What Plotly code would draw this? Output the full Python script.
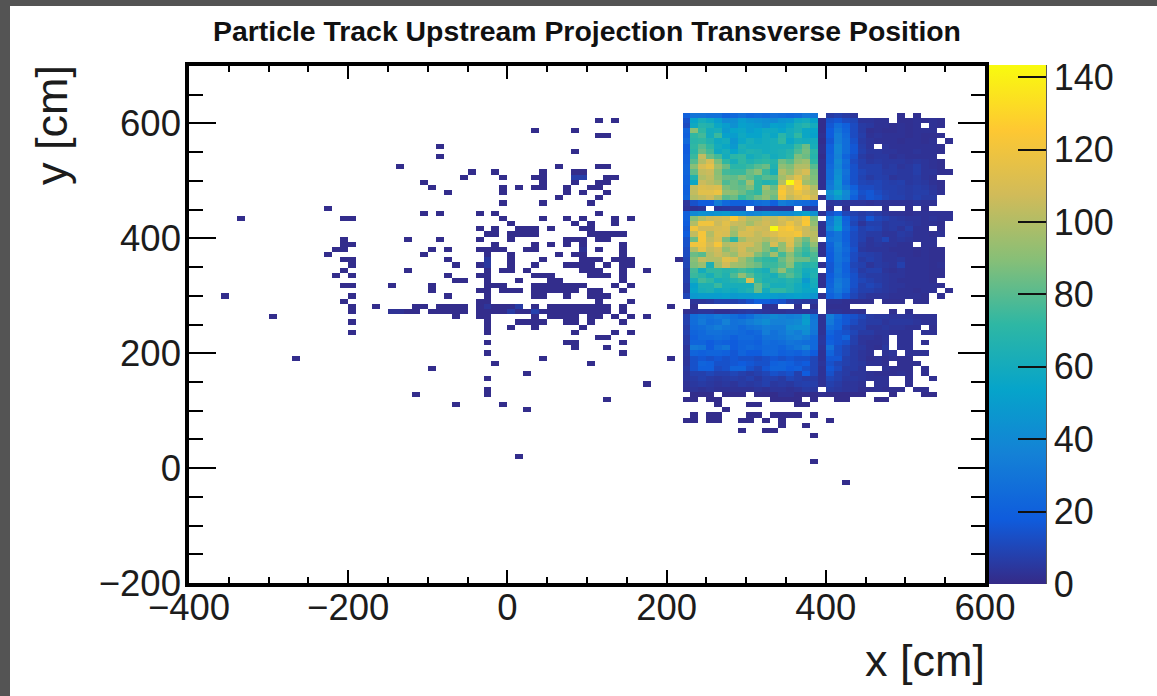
import plotly.graph_objects as go

_ = None
W, H = 1157, 696
PL, PR, PT, PB = 189, 985, 66, 583   # plot frame in page pixels

title_text = "Particle Track Upstream Projection Transverse Position"
x_ticks = [-400, -200, 0, 200, 400, 600]
y_ticks = [-200, 0, 200, 400, 600]
z_ticks = [0, 20, 40, 60, 80, 100, 120, 140]

# Bins: 100 columns of 10 cm from x=-400, 100 rows of 9 cm from y=-200
x_bins = [-400 + 10 * i for i in range(100)]
y_bins = [-200 + 9 * i for i in range(100)]

# Upper-left module, columns x=220..380, rows 90 down to 73
top_left = [
 [20,30,30,28,28,22,24,28,24,26,24,28,26,24,26,32,30],
 [14,54,62,58,50,40,42,50,46,44,42,40,46,48,58,60,52],
 [12,58,68,66,56,50,44,52,50,48,44,52,50,56,64,68,60],
 [22,90,72,60,62,48,54,56,50,54,58,58,54,60,64,56,54],
 [20,72,76,60,74,52,50,58,54,54,60,56,70,60,72,56,52],
 [24,70,72,66,58,60,46,56,62,58,60,62,72,56,62,60,60],
 [18,72,80,72,60,56,48,64,60,60,60,62,62,62,74,84,62],
 [18,70,84,76,58,62,54,62,66,64,60,62,64,68,78,86,70],
 [20,74,104,84,76,60,70,72,60,64,68,60,64,70,88,84,68],
 [20,80,100,110,88,72,62,72,66,70,72,68,86,80,92,96,72],
 [22,90,110,116,96,84,70,70,74,80,84,66,92,88,100,100,80],
 [22,82,104,106,90,76,74,74,84,90,74,62,100,92,104,110,86],
 [20,66,100,104,92,84,82,88,82,74,80,78,96,104,114,100,88],
 [22,56,106,102,96,78,84,78,96,72,66,70,100,143,124,96,90],
 [20,104,112,110,112,88,84,82,88,72,96,84,120,110,126,114,100],
 [20,104,114,114,118,92,90,84,76,72,90,88,124,110,118,110,104],
 [22,100,104,108,98,80,84,72,78,86,92,84,120,104,112,118,108],
 [4,14,18,18,34,24,20,20,22,26,28,20,34,30,26,24,20],
]
# Upper-right module, columns x=400..550, rows 90 down to 72
top_right = [
 [6,8,6,4,_,_,_,_,_,2,_,2,_,_,_,_],
 [14,16,12,10,4,4,3,3,_,2,2,3,2,3,2,_],
 [16,26,20,12,6,5,3,3,2,3,2,3,_,3,2,_],
 [18,30,22,12,6,2,3,2,2,3,2,3,3,3,_,_],
 [18,34,24,12,7,3,4,3,3,3,2,3,2,2,2,_],
 [16,34,26,14,6,4,3,3,3,2,3,3,2,3,_,2],
 [20,38,26,16,7,4,_,4,3,3,3,3,3,3,2,_],
 [20,38,26,16,8,5,5,4,4,3,3,4,3,3,2,_],
 [22,36,22,14,6,4,5,5,3,4,3,3,3,3,_,_],
 [22,40,26,12,8,5,6,5,5,5,4,5,4,3,2,_],
 [24,38,24,14,8,8,8,5,6,4,5,7,4,3,2,_],
 [26,42,28,14,10,8,8,6,6,5,5,7,4,4,2,2],
 [26,44,26,14,9,6,8,7,4,5,5,6,4,3,_,_],
 [30,46,24,14,10,9,10,8,7,8,5,6,5,3,2,_],
 [32,44,30,20,12,12,10,8,8,7,6,7,6,4,2,_],
 [44,56,40,24,14,16,12,9,8,7,6,7,7,5,3,_],
 [38,48,38,20,12,16,14,10,8,8,6,8,6,6,_,_],
 [4,5,4,4,4,3,4,3,3,3,3,4,3,3,_,_],
 [2,_,2,_,_,_,_,2,_,_,2,_,2,_,_,_],
]
# Middle-left module, columns x=220..380, rows 72 down to 53
mid_left = [
 [3,3,4,_,4,5,6,6,_,3,4,3,3,3,_,4,6],
 [20,40,44,42,46,48,42,42,36,40,44,42,40,40,46,52,44],
 [20,90,100,106,108,110,124,108,100,100,106,104,110,106,110,122,88],
 [18,100,120,120,106,114,106,104,96,104,108,104,108,118,108,124,92],
 [16,120,108,108,110,112,98,104,112,108,106,143,120,124,114,106,98],
 [18,104,122,100,112,110,94,110,110,104,108,112,118,118,122,106,102],
 [14,84,122,104,110,86,70,96,104,104,98,104,110,114,96,84,100],
 [14,120,120,108,122,100,104,108,108,100,88,110,92,112,92,78,92],
 [12,100,116,104,108,92,100,108,98,100,88,76,92,104,82,74,84],
 [12,84,80,100,106,100,94,106,104,88,80,96,76,90,78,70,78],
 [10,90,104,100,100,114,110,96,86,76,72,70,84,94,84,84,76],
 [10,88,94,64,96,108,96,94,88,84,74,74,80,90,72,66,70],
 [8,76,60,72,72,68,72,76,72,66,62,78,92,76,70,60,64],
 [8,74,70,62,72,66,78,92,80,70,66,62,74,80,72,58,66],
 [8,62,76,72,62,64,68,72,112,72,64,66,64,68,64,48,62],
 [6,52,64,64,74,62,62,62,62,84,70,62,62,66,60,54,60],
 [6,54,62,64,58,60,58,62,66,84,60,72,72,66,60,56,56],
 [10,48,50,50,50,52,48,50,50,52,52,50,48,50,52,50,46],
 [_,4,4,5,8,8,8,10,14,20,20,16,14,8,6,5,5],
 [_,2,_,_,_,_,_,_,_,_,3,3,_,_,2,_,2],
]
# Middle-right module, columns x=400..550, rows 71 down to 53
mid_right = [
 [14,20,10,8,6,8,6,4,3,3,2,3,3,3,3,3],
 [30,46,20,12,8,16,10,8,6,5,4,4,3,4,3,3],
 [32,48,22,10,4,8,8,5,6,6,5,4,3,3,2,_],
 [36,52,24,14,8,10,9,5,6,4,7,3,3,_,2,_],
 [24,30,20,12,8,6,6,4,4,6,5,3,3,2,3,_],
 [28,30,20,12,8,4,6,10,4,5,4,3,3,3,_,_],
 [22,34,22,12,6,4,5,4,4,3,3,_,3,3,_,_],
 [20,32,24,14,5,4,4,4,3,3,3,2,3,2,2,_],
 [18,30,22,12,8,7,6,4,4,3,3,2,3,2,2,_],
 [18,30,24,12,6,8,6,4,4,5,3,3,3,2,2,_],
 [16,28,20,10,8,4,6,5,4,8,3,3,3,2,3,_],
 [16,30,20,12,6,8,8,4,3,4,3,3,3,2,2,_],
 [18,28,22,14,8,6,6,5,4,4,3,3,3,2,2,_],
 [20,32,26,14,10,8,6,5,4,3,3,3,3,2,_,_],
 [22,34,26,14,8,10,8,5,4,4,3,3,3,3,2,_],
 [24,32,24,12,8,8,6,5,4,3,3,2,3,3,_,2],
 [20,26,16,10,6,4,4,4,3,3,3,3,2,_,2,_],
 [3,3,2,2,2,2,_,2,2,2,_,2,2,_,_,_],
 [2,2,2,_,_,_,_,_,_,_,_,_,_,_,_,_],
]
# Lower-left module, columns x=220..380, rows 52 down to 37
low_left = [
 [2,3,4,4,2,2,4,5,6,5,4,3,3,4,4,4,5],
 [8,26,30,28,32,30,26,22,26,34,36,40,36,34,36,48,30],
 [8,26,32,26,28,36,28,30,34,38,42,36,36,38,40,50,32],
 [6,24,26,30,34,30,28,24,28,30,34,32,32,42,44,44,32],
 [8,22,24,28,28,26,26,24,22,24,34,28,32,38,34,42,30],
 [6,20,24,24,26,24,20,24,24,22,28,28,30,34,36,32,24],
 [6,22,22,18,22,20,18,22,22,20,26,24,26,30,28,26,24],
 [4,32,30,18,26,30,18,22,24,22,24,24,22,26,30,36,24],
 [5,22,20,22,22,20,16,22,18,18,24,24,20,22,20,24,18],
 [4,14,16,14,16,14,16,14,14,12,14,16,14,16,14,14,10],
 [4,14,22,20,14,14,16,18,16,14,14,20,22,20,16,18,10],
 [5,14,20,20,12,14,22,22,14,10,16,22,22,18,20,14,10],
 [4,8,8,10,8,8,10,8,6,8,10,14,12,14,8,18,10],
 [4,6,8,6,5,6,7,6,8,5,8,8,6,10,8,6,6],
 [3,5,6,5,4,5,4,6,5,6,8,5,6,5,7,8,7],
 [2,4,3,4,3,3,3,3,3,4,3,4,4,3,4,6,5],
]
# Lower-right module, columns x=400..530, rows 52 down to 37
low_right = [
 [3,3,2,3,2,_,_,_,2,_,2,_,_,_],
 [34,24,16,14,10,6,5,5,4,4,4,3,3,3],
 [32,22,16,12,8,6,6,4,5,5,5,4,3,3],
 [26,22,12,8,8,4,4,5,4,4,3,3,_,2],
 [22,16,14,10,6,6,4,4,3,3,3,_,3,3],
 [18,16,22,8,4,4,3,4,_,3,3,_,_,_],
 [20,16,14,8,4,3,3,4,_,3,3,_,2,_],
 [28,14,10,6,5,3,2,5,_,3,3,_,_,_],
 [22,14,10,6,4,3,_,3,4,_,3,3,3,_],
 [16,16,8,6,4,2,3,2,3,2,2,_,_,_],
 [14,10,8,6,5,3,3,2,_,2,2,2,_,_],
 [16,12,6,6,4,_,_,3,2,2,2,_,2,_],
 [14,8,6,4,4,3,2,2,2,3,2,_,2,_],
 [10,8,5,5,4,3,3,3,_,_,2,_,_,2],
 [8,6,4,4,3,_,3,3,_,_,2,_,_,_],
 [6,5,4,4,2,2,3,2,2,2,_,2,2,_],
]
# Column x=390, rows 90 down to 36
gap_column = [_,1,1,1,2,1,2,2,1,2,2,2,2,2,2,_,2,_,_,3,_,3,2,2,_,2,2,2,_,2,_,2,2,2,_,2,_,_,_,
              3,3,3,3,4,5,4,3,3,4,3,3,3,3,_,2]

# Isolated low-count cells: row index and the x of each filled bin
sparse_rows = [89,87,86,84,83,82,80,79,78,77,76,75,74,73,72,71,70,69,68,67,66,65,64,63,62,61,60,59,58,57,
               56,55,54,53,52,51,50,49,48,47,46,45,44,43,42,41,40,39,38,37,36,35,34,33,32,31,30,29,28,24,23,19]
sparse_xs = [
 [110,130],[30,80],[110,120],[-90],[80],[-90],[-140,60,110,120],[-50,-20,40,80,90],
 [-60,-10,30,40,80,90,120,130],[-110,40,80,110,120],[-100,-10,10,30,40,70,100,110],[-80,-10,70,90,120],
 [60,110],[-10,40,100],[-230],[-110,-90,-40,-20,110],[-340,-210,-200,-10,40,70,90,130,150],[0,80,100,130],
 [-40,-20,10,20,30,50,90,100],[-30,-20,0,10,20,30,100,110,120,130,140],
 [-210,-130,-90,-40,0,70,80,90,110,120],[-210,-200,-20,30,50,70,90,140],
 [-220,-210,-100,-80,-40,-30,-20,-10,20,30,110,140],[-230,-110,-30,0,60,80,90,140],
 [-210,-200,-80,-30,0,40,90,100,110,130,140,150,210],[-200,-70,-40,-30,0,30,70,80,90,100,120,140,150],
 [-210,-130,-30,-10,0,20,90,100,110,140,170],[-220,-200,-80,-40,-30,30,40,50,100,110,120,140],
 [-70,-60,-30,10,50,60,140],[-210,-200,-150,-100,-30,-20,-10,30,40,50,60,70,80,90,130,150],
 [-100,-40,-30,-10,0,10,30,40,50,60,70,80,100,110,140],[-360,-200,-80,-30,30,40,70,100,110,120],
 [-210,-40,-30,110,150],
 [-200,-170,-120,-110,-90,-80,-70,-60,-40,-30,-20,-10,0,10,30,50,60,70,80,90,100,110,120,140,200],
 [-200,-150,-140,-130,-120,-100,-90,-80,-70,-60,-40,-30,-20,-10,0,10,20,30,40,50,60,70,80,90,100,110,120,140],
 [-300,-70,-40,-30,30,50,60,70,80,100,110,130,150,170],[-200,-30,10,20,30,40,70,80,100,140],
 [-30,0,30,90],[-200,-30,80,130,150],[110,120],[-30,70,80,140],[80,120],[-30,140],[-270,40,200],[-20,100],
 [-100],[20],[-30],[170],[-30],
 [-120,-30,230,240,250,270,280,290,310,320,330,340,350,360,370,380,400,410,420,430,440,480,520,530],
 [120,220,230,250,260,330,340,350,360,380,410,420,460,470],
 [-70,-10,260,300,310,360,370],[20,270],[230,250,260,300,310,330,340,350,360,380],
 [220,230,250,260,290,300,320,340,400],[340,370],[290,320,330],[380],[10],[380],[420],
]
# A few of those cells read slightly brighter than a single count: x, row, count
bright_x = [-30,-30,0,10,30,-150,-140,-30,90,80,90,340,350]
bright_row = [62,61,52,53,52,52,52,53,64,78,78,36,36]
bright_count = [5,5,6,6,8,3,3,4,3,7,7,3,3]

z = [[None for i in x_bins] for j in y_bins]

def put(block, first_row, first_x):
    for r, row in enumerate(block):
        for c, v in enumerate(row):
            if v is not None:
                z[first_row - r][(first_x + 400 + 10 * c) // 10] = v

for n, xs in zip(sparse_rows, sparse_xs):
    for x in xs:
        z[n][(x + 400) // 10] = 1
for x, n, v in zip(bright_x, bright_row, bright_count):
    z[n][(x + 400) // 10] = v
put(top_left, 90, 220)
put(top_right, 90, 400)
put(mid_left, 72, 220)
put(mid_right, 71, 400)
put(low_left, 52, 220)
put(low_right, 52, 400)
for r, v in enumerate(gap_column):
    if v is not None:
        z[90 - r][(390 + 400) // 10] = v

bird = [[0, "rgb(53,42,135)"], [0.125, "rgb(15,92,221)"], [0.25, "rgb(20,129,214)"], [0.375, "rgb(6,164,202)"],
        [0.5, "rgb(46,183,164)"], [0.625, "rgb(135,191,119)"], [0.75, "rgb(209,187,89)"],
        [0.875, "rgb(254,200,50)"], [1, "rgb(249,251,14)"]]

INK = "#1c1c1c"
PW = PR - PL
PH = PB - PT
def px(v):
    return (v - PL) / PW
def py(v):
    return (PB - v) / PH

fig = go.Figure(go.Heatmap(
    z=z, x0=-395, dx=10, y0=-195.5, dy=9, zmin=0, zmax=143.4, colorscale=bird, hoverongaps=False,
    colorbar=dict(
        x=px(989), xref="paper", xanchor="left", y=py(584), yanchor="bottom", len=519 / PH, lenmode="fraction",
        thickness=57, thicknessmode="pixels", xpad=0, ypad=0, outlinewidth=0,
        tickvals=z_ticks, ticks="inside", ticklen=28, tickwidth=1.5, tickcolor="#111111",
        tickfont=dict(family="Liberation Sans", size=36, color=INK),
    ),
))

axis_common = dict(
    showgrid=False, zeroline=False, showline=True, linecolor="black", linewidth=3.5, mirror="allticks",
    ticks="inside", tickcolor="black", tickwidth=1.6,
    tickfont=dict(family="Liberation Sans", size=36.5, color=INK),
)
fig.update_xaxes(range=[-400, 600], tickmode="array", tickvals=x_ticks, ticklen=13, ticklabelstandoff=-11,
                 minor=dict(dtick=50, ticks="inside", ticklen=6, tickcolor="black", tickwidth=1.6), **axis_common)
fig.update_yaxes(range=[-200, 700], tickmode="array", tickvals=y_ticks, ticklen=27, ticklabelstandoff=-3,
                 minor=dict(dtick=50, ticks="inside", ticklen=14, tickcolor="black", tickwidth=1.6), **axis_common)

fig.update_layout(
    width=W, height=H, autosize=False,
    margin=dict(l=PL, r=W - PR, t=PT, b=H - PB, pad=0),
    paper_bgcolor="#545454", plot_bgcolor="white",
    font=dict(family="Liberation Sans", color=INK),
    title=dict(text="<b>" + title_text + "</b>", x=587 / W, xanchor="center", xref="container",
               y=1 - 31 / H, yanchor="middle", yref="container",
               font=dict(family="Liberation Sans", size=28.4, color="#111111")),
    shapes=[
        dict(type="rect", layer="below", xref="paper", yref="paper", x0=px(10), x1=px(W + 5), y0=py(H + 5), y1=py(6),
             fillcolor="white", line=dict(width=0)),
        dict(type="line", xref="paper", yref="paper", x0=px(1046), x1=px(1046), y0=py(584), y1=py(65),
             line=dict(color="#222222", width=1.5)),
    ],
    annotations=[
        dict(text="x [cm]", xref="paper", yref="paper", x=px(987), y=py(660), xanchor="right", yanchor="middle",
             showarrow=False, font=dict(family="Liberation Sans", size=45, color=INK)),
        dict(text="y [cm]", xref="paper", yref="paper", x=px(51), y=py(63), xanchor="center", yanchor="top",
             textangle=-90, showarrow=False, font=dict(family="Liberation Sans", size=45, color=INK)),
    ],
)

fig.write_html("out.html", config=dict(displayModeBar=False),
               post_script="document.body.style.margin='0';document.body.style.overflow='hidden';")
